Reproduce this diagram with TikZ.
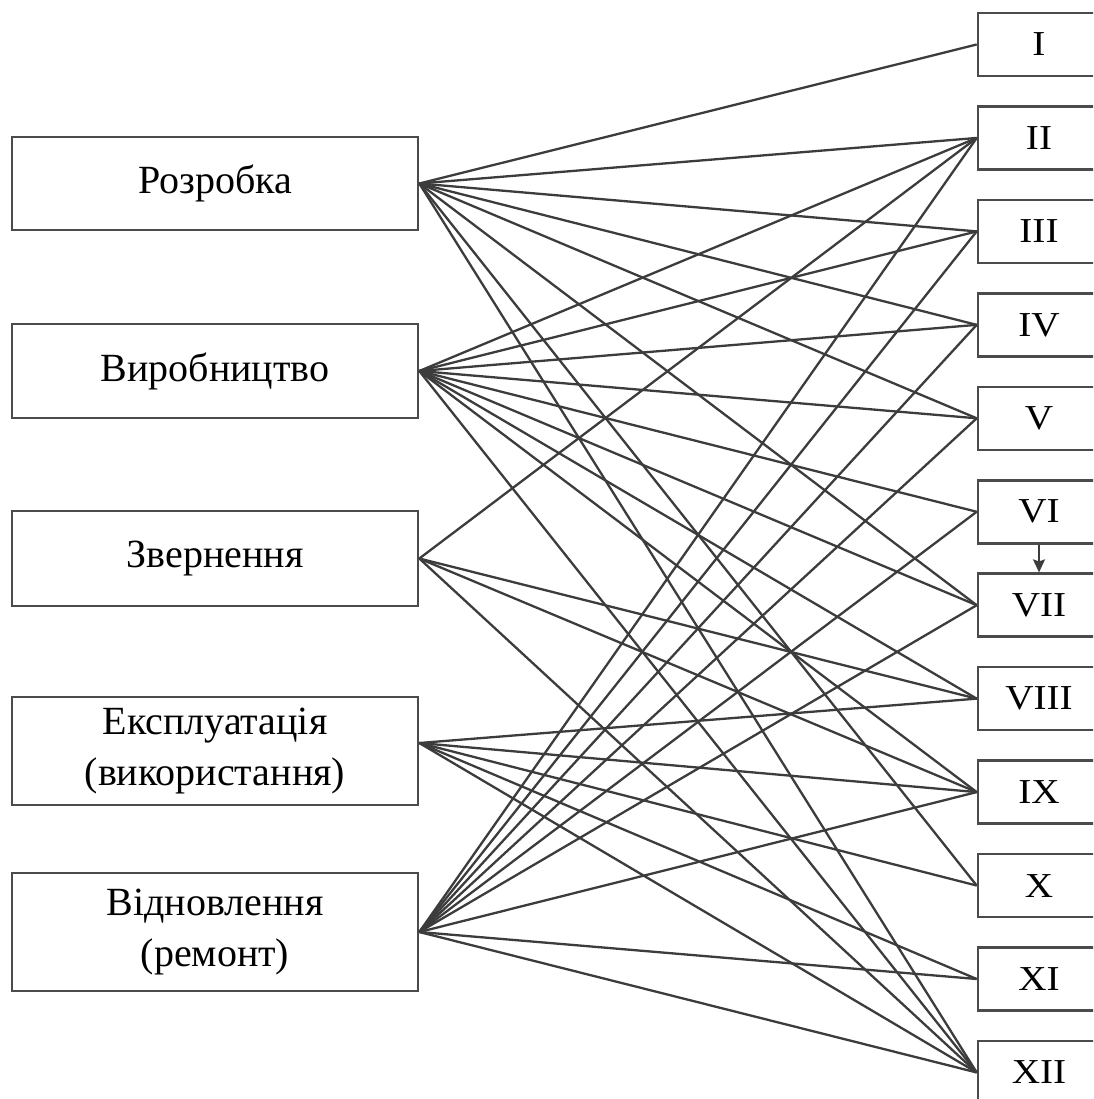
\documentclass[tikz,border=0pt]{standalone}
\usepackage{fontspec}
\setmainfont{Liberation Serif}
\newfontfamily\numfont[FakeStretch=1.12]{Liberation Serif}
\usetikzlibrary{arrows.meta}
\definecolor{boxc}{RGB}{75,75,75}
\definecolor{linec}{RGB}{60,60,60}
\begin{document}
\begin{tikzpicture}[x=1pt,y=-1pt,
  lbox/.style={draw=boxc, line width=2.6pt, minimum width=406pt, align=center, inner sep=0pt, font=\fontsize{40}{51}\selectfont, text=black},
  rbox/.style={draw=boxc, line width=2.6pt, minimum width=122pt, minimum height=63pt, inner sep=0pt, font=\numfont\fontsize{35}{38}\selectfont, text=black},
  link/.style={draw=linec, line width=2.3pt}]
\useasboundingbox (0,0) rectangle (1093,1099);
\clip (0,0) rectangle (1093,1099);
\fill[white] (0,0) rectangle (1093,1099);
% left boxes
\node[lbox, minimum height=93pt]  (L1) at (215,183.5) {Розробка};
\node[lbox, minimum height=94pt]  (L2) at (215,371)   {Виробництво};
\node[lbox, minimum height=95pt]  (L3) at (215,558.5) {Звернення};
\node[lbox, minimum height=108pt] (L4) at (215,751)   {Експлуатація\\(використання)};
\node[lbox, minimum height=118pt] (L5) at (215,932)   {Відновлення\\(ремонт)};
% right boxes
\foreach \i/\t in {1/I,2/II,3/III,4/IV,5/V,6/VI,7/VII,8/VIII,9/IX,10/X,11/XI,12/XII}
  \node[rbox] (r\i) at (1039,{44.5+93.45*(\i-1)}) {\t};
% arrow VI -> VII
\draw[draw=linec, line width=1.8pt, -{Stealth[length=13pt,width=12pt,inset=2pt]}] (r6.south) -- (r7.north);
% connectors
\foreach \t in {1,2,3,4,5,7,10,12} \draw[link] (L1.east) -- (r\t.west);
\foreach \t in {2,3,4,5,6,7,8,9,12} \draw[link] (L2.east) -- (r\t.west);
\foreach \t in {2,8,9,12} \draw[link] (L3.east) -- (r\t.west);
\foreach \t in {8,9,10,11,12} \draw[link] ([yshift=8pt]L4.east) -- (r\t.west);
\foreach \t in {2,3,4,5,6,7,9,11,12} \draw[link] (L5.east) -- (r\t.west);
\end{tikzpicture}
\end{document}
